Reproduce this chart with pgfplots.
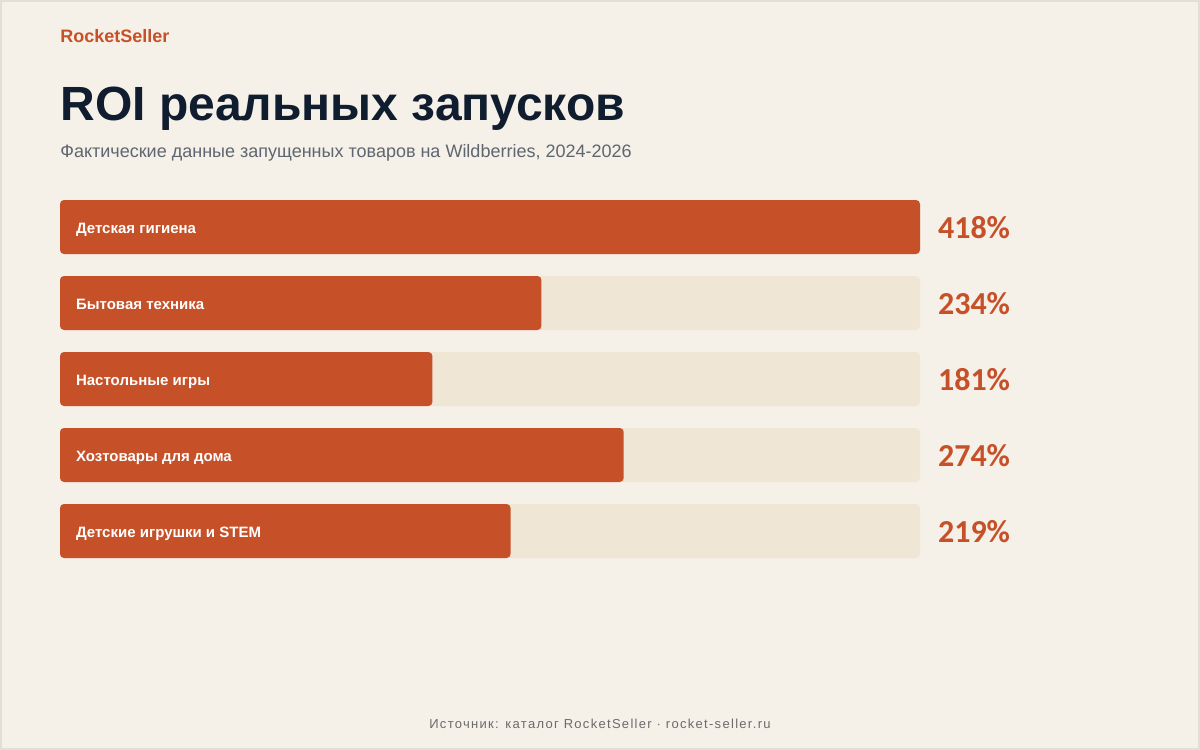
\documentclass[border=0pt]{standalone}
\usepackage{pgfplots}
\pgfplotsset{compat=1.18}
\usepackage{fontspec}
\setmainfont{Liberation Sans}
\newfontfamily\numfont{Carlito}
\newfontfamily\spacedfont[LetterSpace=10]{Liberation Sans}
\definecolor{bg}{HTML}{F5F0E8}
\definecolor{frame}{HTML}{E3DED6}
\definecolor{rust}{HTML}{C65129}
\definecolor{track}{HTML}{EFE6D6}
\definecolor{navy}{HTML}{0F1D2F}
\definecolor{subgray}{HTML}{5E6670}
\definecolor{footgray}{HTML}{6B6B6B}
\begin{document}
\begin{tikzpicture}
\useasboundingbox (0pt,0pt) rectangle (600pt,-375pt);
\fill[bg] (0pt,0pt) rectangle (600pt,-375pt);
\draw[frame, line width=1pt] (0.5pt,-0.5pt) rectangle (599.5pt,-374.5pt);
\node[anchor=base west, inner sep=0pt, text=rust, font=\bfseries\fontsize{9}{11}\selectfont] at (30pt,-21pt) {RocketSeller};
\node[anchor=base west, inner sep=0pt, text=navy, font=\bfseries\fontsize{24}{28}\selectfont] at (30pt,-60pt) {ROI реальных запусков};
\node[anchor=base west, inner sep=0pt, text=subgray, font=\fontsize{9}{11}\selectfont] at (30pt,-78.5pt) {Фактические данные запущенных товаров на Wildberries, 2024-2026};
\node[anchor=base, inner sep=0pt, text=footgray, font=\spacedfont\fontsize{6.5}{8}\selectfont] at (300pt,-364pt) {Источник: каталог RocketSeller · rocket-seller.ru};
\begin{axis}[
  at={(30pt,-284.5pt)}, anchor=south west,
  scale only axis, width=430pt, height=190pt,
  xmin=0, xmax=418, ymin=-0.5, ymax=4.5,
  clip=false, axis on top,
  axis line style={draw=none}, major tick length=0pt,
  xtick=\empty, ytick={0,1,2,3,4},
  yticklabels={Детские игрушки и STEM, Хозтовары для дома, Настольные игры, Бытовая техника, Детская гигиена},
  yticklabel style={anchor=base west, xshift=4.5pt, yshift=-3pt, text=white, font=\bfseries\fontsize{7.5}{9}\selectfont},
]
\addplot[xbar, bar width=27pt, bar shift=0pt, fill=track, draw=none, rounded corners=2pt]
  coordinates {(418,4) (418,3) (418,2) (418,1) (418,0)};
\addplot[xbar, bar width=27pt, bar shift=0pt, fill=rust, draw=none, rounded corners=2pt]
  coordinates {(418,4) (234,3) (181,2) (274,1) (219,0)};
\addplot[draw=none, mark=none, point meta=explicit symbolic,
  nodes near coords={\pgfplotspointmeta\%},
  nodes near coords style={anchor=base west, xshift=5.5pt, yshift=-5.5pt, text=rust, font=\numfont\bfseries\fontsize{16}{18}\selectfont}]
  coordinates {(418,4) [418] (418,3) [234] (418,2) [181] (418,1) [274] (418,0) [219]};
\end{axis}
\end{tikzpicture}
\end{document}
